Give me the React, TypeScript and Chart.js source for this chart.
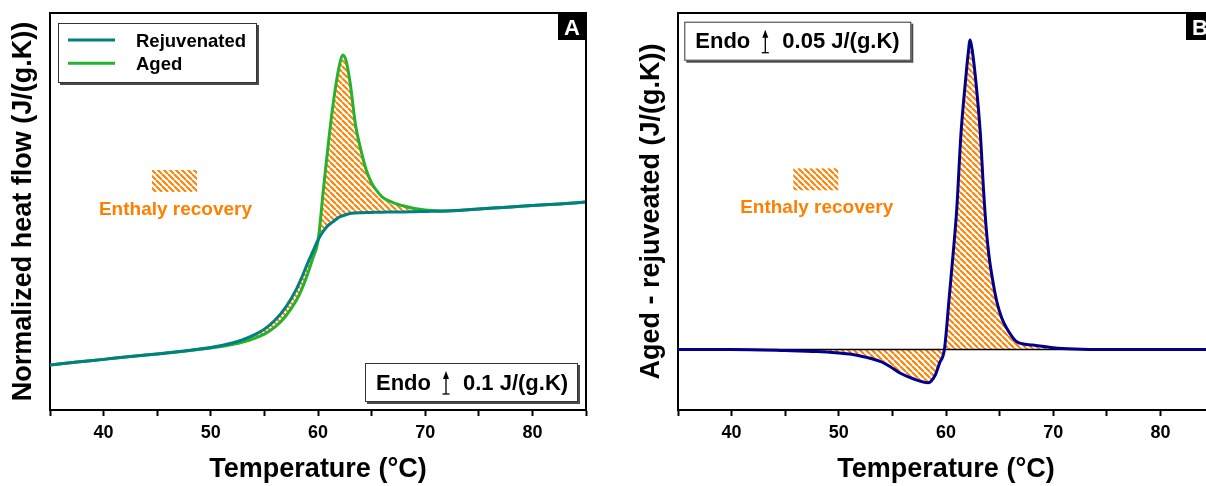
import React, { useEffect, useRef } from 'react';
import { Chart, registerables } from 'chart.js';

Chart.register(...registerables);

const FONT = "'Liberation Sans', Arial, Helvetica, sans-serif";

// ---------- Panel A data (normalized heat flow) ----------
const temperatureA = [35, 37.5, 40, 42.5, 45, 47.5, 50, 51, 52, 53, 54, 55, 56, 57, 58, 58.5, 59, 59.5, 60, 60.5, 61, 61.5, 62, 62.3, 62.6, 63, 63.5, 64, 64.5, 65, 65.5, 66, 67, 68, 69, 70, 72, 75, 78, 80, 82.5, 85];
const rejuvenated = [0.181, 0.193, 0.204, 0.216, 0.226, 0.238, 0.252, 0.26, 0.27, 0.284, 0.302, 0.326, 0.363, 0.415, 0.488, 0.536, 0.588, 0.637, 0.685, 0.721, 0.746, 0.762, 0.778, 0.783, 0.787, 0.792, 0.794, 0.795, 0.796, 0.796, 0.797, 0.797, 0.798, 0.798, 0.799, 0.8, 0.802, 0.81, 0.818, 0.824, 0.83, 0.838];
const aged = [0.181, 0.193, 0.204, 0.216, 0.226, 0.237, 0.25, 0.256, 0.264, 0.274, 0.288, 0.306, 0.335, 0.379, 0.443, 0.488, 0.544, 0.609, 0.681, 0.887, 1.088, 1.261, 1.39, 1.431, 1.411, 1.318, 1.149, 1.048, 0.967, 0.915, 0.883, 0.858, 0.836, 0.822, 0.812, 0.806, 0.802, 0.81, 0.818, 0.824, 0.83, 0.838];

// ---------- Panel B data (aged - rejuvenated) ----------
const temperatureB = [35, 40, 45, 48, 50, 51, 52, 53, 54, 54.8, 55.7, 57, 58.35, 59, 59.4, 59.85, 60.3, 60.7, 61, 61.4, 61.8, 62.05, 62.25, 62.45, 62.8, 63.2, 63.5, 63.75, 64, 64.4, 64.75, 65.2, 65.65, 66.6, 68.1, 70, 72, 75, 80, 85];
const agedMinusRejuvenated = [0, 0, -0.001, -0.002, -0.0035, -0.0045, -0.0065, -0.009, -0.0125, -0.0172, -0.0235, -0.0295, -0.0332, -0.0255, -0.0135, 0, 0.052, 0.1, 0.14, 0.2165, 0.2665, 0.294, 0.3095, 0.299, 0.2665, 0.2165, 0.16, 0.1215, 0.0945, 0.0665, 0.0475, 0.0315, 0.0215, 0.0078, 0.0045, 0.0018, 0.0005, 0, 0, 0];
const baselineX = [35, 85];
const baselineY = [0, 0];

// ---------- labels ----------
const xTickLabels = ['40', '50', '60', '70', '80'];
const seriesNames = ['Rejuvenated', 'Aged', 'Aged - rejuvenated'];
const xTitle = 'Temperature (°C)';
const yTitleA = 'Normalized heat flow (J/(g.K))';
const yTitleB = 'Aged - rejuveated (J/(g.K))';
const endoA = '0.1 J/(g.K)';
const endoB = '0.05 J/(g.K)';
const annotationText = 'Enthaly recovery';

const TEAL = 'rgb(0,128,128)';
const GREEN = 'rgb(38,178,44)';
const NAVY = 'rgb(0,0,140)';
const ORANGE = '#FF8000';

function pts(xs: number[], ys: number[]) {
  return xs.map((x, i) => ({ x, y: ys[i] }));
}

function makeHatch(): CanvasPattern {
  const s = 6;
  const c = document.createElement('canvas');
  c.width = s;
  c.height = s;
  const g = c.getContext('2d')!;
  g.strokeStyle = ORANGE;
  g.lineWidth = 2;
  g.beginPath();
  for (const k of [-s, 0, s]) {
    g.moveTo(k, 0);
    g.lineTo(k + s, s);
  }
  g.stroke();
  return g.createPattern(c, 'repeat')!;
}

function xScale() {
  return {
    type: 'linear',
    min: 35,
    max: 85,
    ticks: {
      stepSize: 5,
      autoSkip: false,
      maxRotation: 0,
      padding: 6,
      color: '#000',
      font: { family: FONT, size: 18, weight: 'bold' },
      callback: (v: any) => (xTickLabels.includes(String(v)) ? String(v) : ''),
    },
    grid: { display: true, drawOnChartArea: false, drawTicks: true, tickLength: 6, tickWidth: 2, tickColor: '#000' },
    border: { display: true, color: '#000', width: 2 },
    title: { display: true, text: xTitle, color: '#000', font: { family: FONT, size: 27, weight: 'bold' }, padding: { top: 0, bottom: 0 } },
    afterFit: (s: any) => { s.height = 76; },
  };
}

function yScale(min: number, max: number, title: string, width: number, titlePad: number) {
  return {
    type: 'linear',
    min,
    max,
    ticks: { display: false },
    grid: { display: false, drawTicks: false },
    border: { display: true, color: '#000', width: 2 },
    title: { display: true, text: title, color: '#000', font: { family: FONT, size: 27, weight: 'bold' }, padding: { top: titlePad, bottom: 0 } },
    afterFit: (s: any) => { s.width = width; },
  };
}

function shadowBox(ctx: CanvasRenderingContext2D, x: number, y: number, w: number, h: number) {
  ctx.save();
  ctx.fillStyle = '#4a4a4a';
  ctx.fillRect(x + 2, y + 2, w, h);
  ctx.fillStyle = '#fff';
  ctx.fillRect(x, y, w, h);
  ctx.strokeStyle = '#333';
  ctx.lineWidth = 1;
  ctx.strokeRect(x + 0.5, y + 0.5, w - 1, h - 1);
  ctx.restore();
}

function endoArrow(ctx: CanvasRenderingContext2D, x: number, top: number, bottom: number) {
  ctx.save();
  ctx.strokeStyle = '#000';
  ctx.fillStyle = '#000';
  ctx.lineWidth = 1.3;
  ctx.beginPath();
  ctx.moveTo(x, top + 5);
  ctx.lineTo(x, bottom);
  ctx.stroke();
  ctx.beginPath();
  ctx.moveTo(x, top);
  ctx.lineTo(x - 3, top + 8);
  ctx.lineTo(x + 3, top + 8);
  ctx.closePath();
  ctx.fill();
  ctx.beginPath();
  ctx.moveTo(x - 3.5, bottom);
  ctx.lineTo(x + 3.5, bottom);
  ctx.stroke();
  ctx.restore();
}

function endoBox(ctx: CanvasRenderingContext2D, x: number, y: number, w: number, h: number, valueText: string) {
  shadowBox(ctx, x, y, w, h);
  ctx.save();
  ctx.fillStyle = '#000';
  ctx.font = `bold 22px ${FONT}`;
  ctx.textBaseline = 'alphabetic';
  ctx.textAlign = 'left';
  const base = y + 26.5;
  ctx.fillText('Endo', x + 11, base);
  endoArrow(ctx, x + 81, y + 8, y + 31);
  ctx.fillText(valueText, x + 98, base);
  ctx.restore();
}

function letterBox(ctx: CanvasRenderingContext2D, right: number, top: number, letter: string) {
  ctx.save();
  ctx.fillStyle = '#000';
  ctx.fillRect(right - 28, top, 28, 27);
  ctx.fillStyle = '#fff';
  ctx.font = `bold 22px ${FONT}`;
  ctx.textAlign = 'center';
  ctx.textBaseline = 'alphabetic';
  ctx.fillText(letter, right - 14, top + 21.5);
  ctx.restore();
}

function annotation(ctx: CanvasRenderingContext2D, cx: number, baseline: number, swX: number, swY: number, hatch: CanvasPattern) {
  ctx.save();
  ctx.fillStyle = hatch;
  ctx.fillRect(swX, swY, 45, 22);
  ctx.fillStyle = ORANGE;
  ctx.font = `bold 19px ${FONT}`;
  ctx.textAlign = 'center';
  ctx.textBaseline = 'alphabetic';
  ctx.fillText(annotationText, cx, baseline);
  ctx.restore();
}

function frame(ctx: CanvasRenderingContext2D, a: any) {
  ctx.save();
  ctx.strokeStyle = '#000';
  ctx.lineWidth = 2;
  ctx.beginPath();
  ctx.moveTo(a.left, a.top);
  ctx.lineTo(a.right, a.top);
  ctx.lineTo(a.right, a.bottom);
  ctx.stroke();
  ctx.restore();
}

export default function App() {
  const refA = useRef<HTMLCanvasElement>(null);
  const refB = useRef<HTMLCanvasElement>(null);

  useEffect(() => {
    const hatch = makeHatch();

    const decorA = {
      id: 'decorA',
      afterDraw(chart: any) {
        const ctx = chart.ctx as CanvasRenderingContext2D;
        const a = chart.chartArea;
        frame(ctx, a);
        // legend
        const lx = a.left + 8, ly = a.top + 10;
        shadowBox(ctx, lx, ly, 199, 60);
        const ds = chart.data.datasets;
        [0, 1].forEach((i) => {
          const yy = ly + 17 + i * 23.3;
          ctx.save();
          ctx.strokeStyle = ds[i].borderColor;
          ctx.lineWidth = 3;
          ctx.beginPath();
          ctx.moveTo(lx + 10, yy);
          ctx.lineTo(lx + 57, yy);
          ctx.stroke();
          ctx.fillStyle = '#000';
          ctx.font = `bold 18.5px ${FONT}`;
          ctx.textBaseline = 'alphabetic';
          ctx.fillText(ds[i].label, lx + 78, yy + 6.5);
          ctx.restore();
        });
        annotation(ctx, 175.5, 215, 152, 170, hatch);
        endoBox(ctx, a.right - 221, a.bottom - 47, 213, 39, endoA);
        letterBox(ctx, a.right, a.top, 'A');
      },
    };

    const decorB = {
      id: 'decorB',
      afterDraw(chart: any) {
        const ctx = chart.ctx as CanvasRenderingContext2D;
        const a = chart.chartArea;
        frame(ctx, a);
        annotation(ctx, 216.7, 213.3, 193.3, 168.3, hatch);
        endoBox(ctx, a.left + 6.3, a.top + 8.7, 227, 39, endoB);
        letterBox(ctx, a.right, a.top, 'B');
      },
    };

    const chartA = new Chart(refA.current!, {
      type: 'line',
      data: {
        datasets: [
          {
            label: seriesNames[0],
            data: pts(temperatureA, rejuvenated),
            borderColor: TEAL,
            borderWidth: 3,
            pointRadius: 0,
            cubicInterpolationMode: 'monotone',
            fill: false,
          },
          {
            label: seriesNames[1],
            data: pts(temperatureA, aged),
            borderColor: GREEN,
            borderWidth: 3,
            pointRadius: 0,
            cubicInterpolationMode: 'monotone',
            backgroundColor: hatch,
            fill: { target: 0, above: hatch, below: hatch },
          },
        ],
      } as any,
      options: {
        responsive: false,
        animation: false,
        devicePixelRatio: 1,
        layout: { padding: { left: 0, top: 13, right: 14, bottom: 0 } },
        plugins: {
          legend: { display: false },
          tooltip: { enabled: false },
          filler: { propagate: false, drawTime: 'beforeDatasetsDraw' },
        },
        scales: {
          x: xScale(),
          y: yScale(0, 1.6, yTitleA, 50, 7.5),
        },
      } as any,
      plugins: [decorA],
    });

    const chartB = new Chart(refB.current!, {
      type: 'line',
      data: {
        datasets: [
          {
            label: seriesNames[2],
            data: pts(temperatureB, agedMinusRejuvenated),
            borderColor: NAVY,
            borderWidth: 3,
            pointRadius: 0,
            cubicInterpolationMode: 'monotone',
            backgroundColor: hatch,
            fill: { value: 0, above: hatch, below: hatch },
          },
          {
            label: 'baseline',
            data: pts(baselineX, baselineY),
            borderColor: '#000',
            borderWidth: 1.3,
            pointRadius: 0,
            fill: false,
          },
        ],
      } as any,
      options: {
        responsive: false,
        animation: false,
        devicePixelRatio: 1,
        layout: { padding: { left: 0, top: 13, right: 6, bottom: 0 } },
        plugins: {
          legend: { display: false },
          tooltip: { enabled: false },
          filler: { propagate: false, drawTime: 'beforeDatasetsDraw' },
        },
        scales: {
          x: xScale(),
          y: yScale(-0.0605, 0.3365, yTitleB, 78, 35.7),
        },
      } as any,
      plugins: [decorB],
    });

    return () => {
      chartA.destroy();
      chartB.destroy();
    };
  }, []);

  return (
    <div style={{ position: 'absolute', left: 0, top: 0, width: 1206, height: 486, overflow: 'hidden', background: '#fff' }}>
      <canvas ref={refA} width={600} height={486} style={{ position: 'absolute', left: 0, top: 0, width: 600, height: 486 }} />
      <canvas ref={refB} width={620} height={486} style={{ position: 'absolute', left: 600, top: 0, width: 620, height: 486 }} />
    </div>
  );
}
